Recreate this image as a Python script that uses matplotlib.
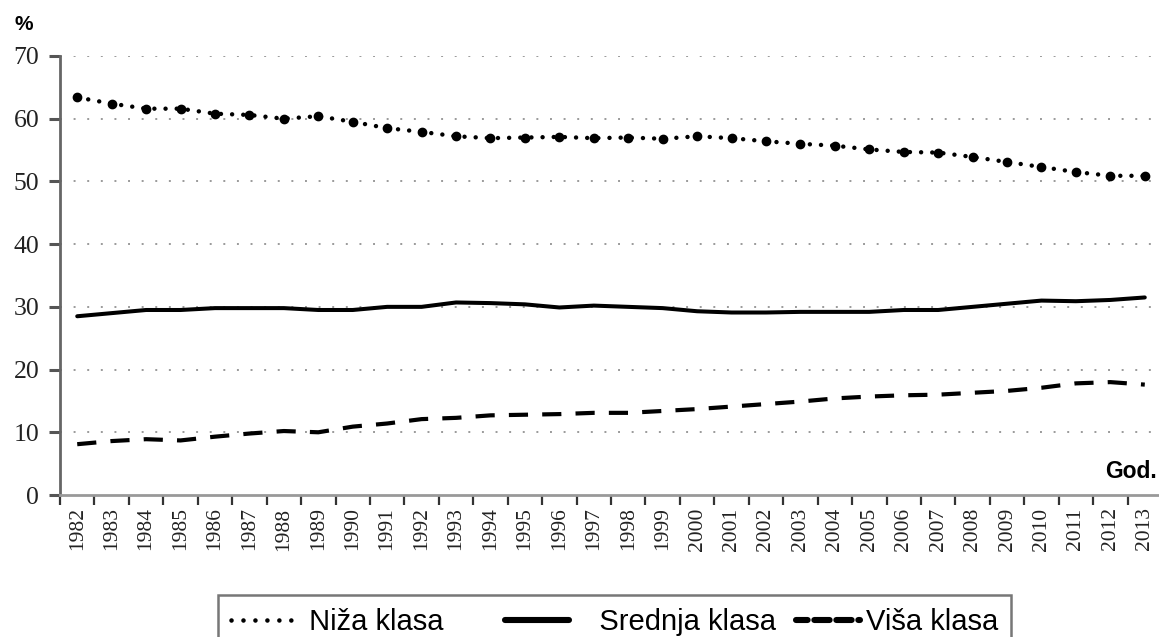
import matplotlib
matplotlib.use("Agg")
import matplotlib.pyplot as plt
from matplotlib.lines import Line2D
from matplotlib.ticker import FixedLocator

# podaci (procijenjeno sa slike)
godine = [str(g) for g in range(1982, 2014)]
niza = [63.4, 62.4, 61.6, 61.6, 60.8, 60.6, 60.0, 60.4, 59.5, 58.5,
        57.9, 57.2, 56.9, 57.0, 57.1, 56.9, 57.0, 56.8, 57.2, 56.9,
        56.4, 56.0, 55.7, 55.1, 54.7, 54.6, 53.9, 53.1, 52.3, 51.5,
        50.9, 50.9]
srednja = [28.5, 29.0, 29.5, 29.5, 29.8, 29.8, 29.8, 29.5, 29.5, 30.0,
           30.0, 30.7, 30.6, 30.4, 29.9, 30.2, 30.0, 29.8, 29.3, 29.1,
           29.1, 29.2, 29.2, 29.2, 29.5, 29.5, 30.0, 30.5, 31.0, 30.9,
           31.1, 31.5]
visa = [8.1, 8.6, 8.9, 8.7, 9.3, 9.8, 10.2, 10.0, 10.9, 11.4,
        12.1, 12.3, 12.7, 12.8, 12.9, 13.1, 13.1, 13.4, 13.7, 14.1,
        14.5, 14.9, 15.4, 15.7, 15.9, 16.0, 16.3, 16.6, 17.1, 17.8,
        18.0, 17.6]
y_ticks = [0, 10, 20, 30, 40, 50, 60, 70]

x = list(range(len(godine)))

fig = plt.figure(figsize=(11.59, 6.37), dpi=100)
ax = fig.add_axes([60 / 1159, 1 - 495 / 637, 1102 / 1159, (495 - 56) / 637])

# mreza
for v in y_ticks[1:]:
    ax.axhline(v, color="#9a9a9a", lw=1.4, linestyle=(0, (1, 6)), zorder=1)

# linije
ax.plot(x, niza, color="black", lw=3.2, linestyle=(0, (0.01, 2.5)),
        dash_capstyle="round", marker="o", ms=6, zorder=3)
ax.plot(x, srednja, color="black", lw=2.9, solid_capstyle="round", zorder=3)
ax.plot(x, visa, color="black", lw=3.0, linestyle=(0, (4.6, 3.4)),
        dash_capstyle="butt", zorder=3)

ax.set_xlim(-0.5, 31.5)
ax.set_ylim(0, 70)

ax.set_xticks(x)
ax.set_xticklabels(godine, rotation=90, fontsize=15.5, family="Liberation Serif",
                   color="#222222")
ax.xaxis.set_minor_locator(FixedLocator([i - 0.5 for i in range(len(godine))]))
ax.tick_params(axis="x", which="major", length=0, pad=9)
ax.tick_params(axis="x", which="minor", length=7, width=1.6, color="#333333",
               direction="out")

ax.set_yticks(y_ticks)
ax.set_yticklabels([str(v) for v in y_ticks], fontsize=18.5,
                   family="Liberation Serif", color="#222222")
ax.tick_params(axis="y", length=8, width=2.2, color="#555555", pad=7)

for s in ["top", "right"]:
    ax.spines[s].set_visible(False)
ax.spines["left"].set_color("#666666")
ax.spines["left"].set_linewidth(2.0)
ax.spines["bottom"].set_color("#999999")
ax.spines["bottom"].set_linewidth(2.0)

fig.text(24 / 1159, 1 - 25 / 637, "%", fontsize=15, fontweight="bold",
         family="Liberation Sans", ha="center", va="center")
fig.text(1157 / 1159, 1 - 478 / 637, "God.", fontsize=16.5, fontweight="bold",
         family="Liberation Sans", ha="right", va="baseline")

# legenda
h1 = Line2D([], [], color="black", lw=3.3, linestyle=(0, (0.01, 2.6)),
            dash_capstyle="round")
h2 = Line2D([], [], color="black", lw=4.4, solid_capstyle="round")
h3 = Line2D([], [], color="black", lw=4.4, linestyle=(0.6, (2.5, 1.1)),
            dash_capstyle="round")
leg = fig.legend([h1, h2, h3],
                 [" Niža klasa     ", "   Srednja klasa", "Viša klasa"],
                 loc="upper left", bbox_to_anchor=(218 / 1159, 1 - 595 / 637),
                 ncol=3, handlelength=2.2, handletextpad=0.2,
                 columnspacing=0.7, borderpad=0.45, borderaxespad=0,
                 fancybox=False, frameon=True,
                 prop={"family": "Liberation Sans", "size": 21})
leg.get_frame().set_edgecolor("#555555")
leg.get_frame().set_linewidth(1.8)

fig.savefig("out.png", dpi=100)
